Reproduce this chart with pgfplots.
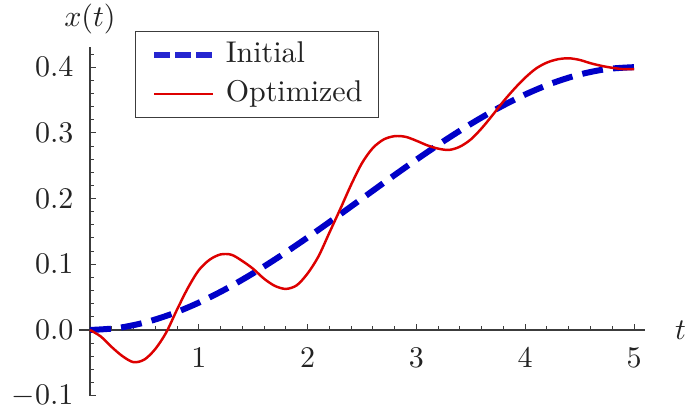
\documentclass[border=0pt]{standalone}
\usepackage{graphicx}
\usepackage{pgfplots}
\pgfplotsset{compat=1.18}
\definecolor{cblue}{RGB}{0,0,200}
\definecolor{cred}{RGB}{221,0,0}
\definecolor{axc}{RGB}{60,60,60}
\definecolor{txc}{RGB}{35,35,35}
\begin{document}
\scalebox{3}{%
\begin{tikzpicture}
\path[use as bounding box] (0,0) rectangle (229.333pt,137.667pt);
\begin{axis}[
  at={(26.37pt,5.77pt)}, anchor=south west,
  scale only axis, width=188.6pt, height=116.3pt,
  axis lines=middle,
  xmin=-0.1, xmax=5.1, ymin=-0.1, ymax=0.431,
  xtick={1,2,3,4,5},
  xticklabels={$1$,$2$,$3$,$4$,$5$},
  minor xtick={0.2,0.4,...,5.01},
  ytick={-0.1,0,0.1,0.2,0.3,0.4},
  yticklabels={$-0.1$,$0.0$,$0.1$,$0.2$,$0.3$,$0.4$},
  minor ytick={-0.08,-0.06,...,0.421},
  hide obscured x ticks=false, hide obscured y ticks=false,
  tick align=inside,
  major tick length=2pt, minor tick length=1.2pt,
  every tick/.style={axc, line width=0.33pt},
  axis line style={axc, line width=0.45pt, -},
  yticklabel style={xshift=-2pt, text=txc},
  xticklabel style={yshift=-2.67pt, text=txc},
  xlabel={$t$}, ylabel={$x(t)$},
  every axis x label/.style={at={(axis cs:5.1,0)}, anchor=west, xshift=6.5pt, text=txc},
  every axis y label/.style={at={(axis cs:0,0.431)}, anchor=south, yshift=0.67pt, text=txc},
  clip=false,
  legend image code/.code={\draw[#1] (0pt,0pt) -- (19.67pt,0pt);},
  legend style={at={(axis cs:0.414,0.455)}, anchor=north west,
    draw=axc, line width=0.43pt, fill=white,
    inner xsep=5.33pt, inner ysep=3.33pt, row sep=4pt,
    cells={anchor=west},
    nodes={inner sep=0pt, text height=7pt, text depth=2pt, text=txc},
    /tikz/column 1/.style={column sep=3.2pt}},
]
\addplot[cblue, line width=2pt, dash pattern=on 7pt off 3.4pt, smooth, forget plot] coordinates {
(0,0) (0.25,0.0029) (0.5,0.0112) (0.75,0.0243) (1.0,0.0416) (1.25,0.0625)
(1.5,0.0864) (1.75,0.1127) (2.0,0.1408) (2.25,0.1701) (2.5,0.2) (2.75,0.2299)
(3.0,0.2592) (3.25,0.2873) (3.5,0.3136) (3.75,0.3375) (4.0,0.3584) (4.25,0.3757)
(4.5,0.3888) (4.75,0.3971) (5.0,0.4)};
\addplot[cred, line width=0.82pt, smooth, forget plot] coordinates {
(0.0,0) (0.1,-0.010) (0.2,-0.026) (0.3,-0.040) (0.4,-0.049) (0.5,-0.045)
(0.6,-0.029) (0.7,-0.004) (0.8,0.031) (0.9,0.064) (1.0,0.091) (1.1,0.107)
(1.2,0.115) (1.3,0.1145) (1.4,0.105) (1.5,0.093) (1.6,0.078) (1.7,0.067)
(1.8,0.0625) (1.9,0.068) (2.0,0.086) (2.1,0.112) (2.2,0.148) (2.3,0.184)
(2.4,0.221) (2.5,0.254) (2.6,0.277) (2.7,0.290) (2.8,0.295) (2.9,0.294)
(3.0,0.288) (3.1,0.281) (3.2,0.276) (3.3,0.274) (3.4,0.279) (3.5,0.290)
(3.6,0.307) (3.7,0.327) (3.8,0.348) (3.9,0.367) (4.0,0.384) (4.1,0.398)
(4.2,0.407) (4.3,0.412) (4.4,0.4135) (4.5,0.411) (4.6,0.406) (4.7,0.402)
(4.8,0.399) (4.9,0.397) (5.0,0.397)};
\addlegendimage{cblue!85, line width=1.83pt, dash pattern=on 5.33pt off 1.67pt}
\addlegendentry{Initial}
\addlegendimage{cred, line width=0.87pt}
\addlegendentry{Optimized}
\end{axis}
\end{tikzpicture}}
\end{document}
